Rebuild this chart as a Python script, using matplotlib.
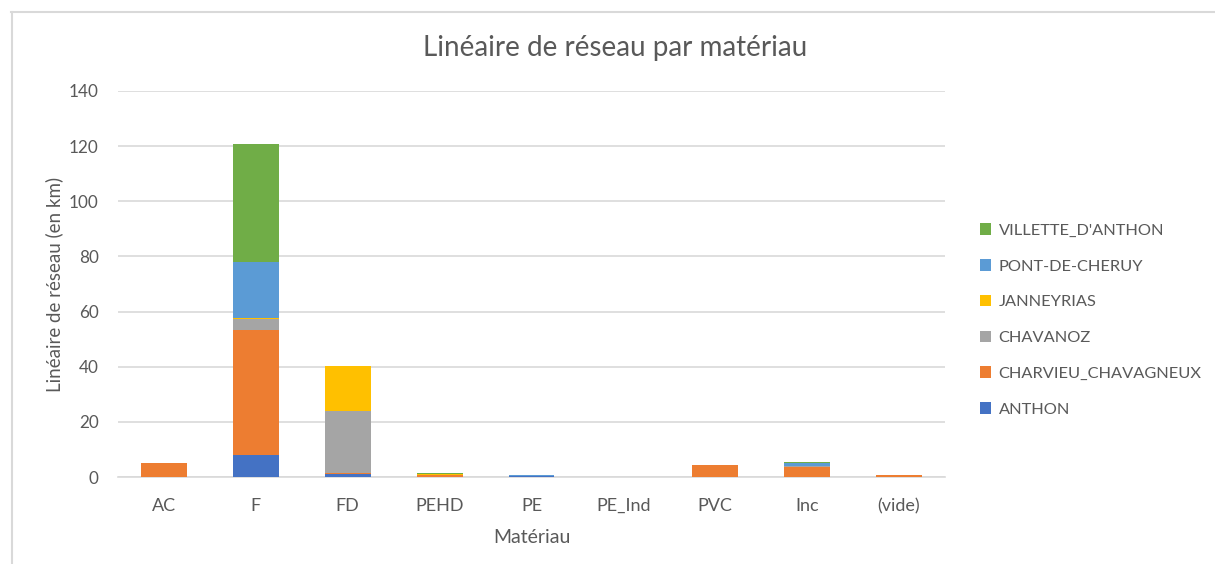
import matplotlib
matplotlib.use("Agg")
import matplotlib.pyplot as plt
from matplotlib.lines import Line2D
from matplotlib.patches import Patch
import numpy as np

plt.rcParams['font.family'] = ['Lato', 'DejaVu Sans']

categories = ["AC", "F", "FD", "PEHD", "PE", "PE_Ind", "PVC", "Inc", "(vide)"]
series_names = ["ANTHON", "CHARVIEU_CHAVAGNEUX", "CHAVANOZ", "JANNEYRIAS",
                "PONT-DE-CHERUY", "VILLETTE_D'ANTHON"]
anthon      = [0.0, 8.0, 1.0, 0.0, 0.4, 0.0, 0.0, 0.0, 0.0]
charvieu    = [5.0, 45.3, 0.3, 0.6, 0.0, 0.0, 4.2, 3.6, 0.6]
chavanoz    = [0.0, 4.1, 22.7, 0.0, 0.0, 0.0, 0.0, 0.5, 0.0]
janneyrias  = [0.0, 0.4, 16.3, 0.5, 0.0, 0.0, 0.0, 0.0, 0.0]
pont        = [0.0, 20.2, 0.0, 0.0, 0.5, 0.0, 0.3, 0.8, 0.0]
villette    = [0.0, 42.8, 0.0, 0.25, 0.0, 0.0, 0.0, 0.5, 0.0]
series_values = [anthon, charvieu, chavanoz, janneyrias, pont, villette]
colors = ["#4472C4", "#ED7D31", "#A5A5A5", "#FFC000", "#5B9BD5", "#70AD47"]

TXT = "#595959"
fig = plt.figure(figsize=(12.15, 5.64), dpi=100)
ax = fig.add_axes([118/1215, 1-477/564, (945-118)/1215, (477-91)/564])

x = np.arange(len(categories))
bottom = np.zeros(len(categories))
for name, vals, c in zip(series_names, series_values, colors):
    v = np.array(vals)
    ax.bar(x, v, 0.5, bottom=bottom, color=c, label=name, zorder=3)
    bottom += v

ax.set_xlim(-0.5, len(categories) - 0.5)
ax.set_ylim(0, 140)
ax.set_yticks(np.arange(0, 141, 20))
ax.set_xticks(x)
ax.set_xticklabels(categories)
ax.yaxis.grid(True, color="#D9D9D9", linewidth=1.2, zorder=0)
for s in ["top", "right", "left"]:
    ax.spines[s].set_visible(False)
ax.spines["bottom"].set_color("#D9D9D9")
ax.spines["bottom"].set_linewidth(1.2)
ax.tick_params(axis="x", length=0, labelsize=13, colors=TXT, pad=15)
ax.tick_params(axis="y", length=0, labelsize=12.3, colors=TXT, pad=14)

ax.set_xlabel("Matériau", fontsize=14, color=TXT, labelpad=11)
ax.set_ylabel("Linéaire de réseau (en km)", fontsize=13.5, color=TXT, labelpad=4)
fig.text(615/1215, 1-48/564, "Linéaire de réseau par matériau", fontsize=20,
         color=TXT, ha="center", va="center")

handles = [Patch(facecolor=c, edgecolor="none") for c in colors][::-1]
labels = series_names[::-1]
leg = fig.legend(handles, labels, loc="center left",
                 bbox_to_anchor=(965/1215, 1-320/564), frameon=False,
                 fontsize=11.8, labelcolor=TXT, handlelength=0.7, handleheight=0.7,
                 handletextpad=0.45, labelspacing=1.3)

# chart area border (top and left visible)
fig.add_artist(Line2D([11/1215, 1.0], [1-11.5/564, 1-11.5/564],
                      transform=fig.transFigure, color="#D9D9D9", linewidth=1.5))
fig.add_artist(Line2D([11.5/1215, 11.5/1215], [0.0, 1-11.5/564],
                      transform=fig.transFigure, color="#D9D9D9", linewidth=1.5))

fig.savefig("out.png", dpi=100, facecolor="white")
